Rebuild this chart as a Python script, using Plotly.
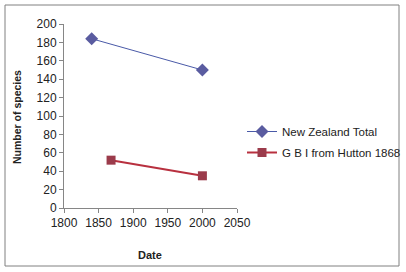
import plotly.graph_objects as go

nz_years = [1840, 2000]
nz_values = [184, 150]
gb_years = [1868, 2000]
gb_values = [52, 35]

x_ticks = [1800, 1850, 1900, 1950, 2000, 2050]
y_ticks = [0, 20, 40, 60, 80, 100, 120, 140, 160, 180, 200]

W, H = 406, 272
L, R, T, B = 64, 237, 24, 208

fig = go.Figure()
fig.add_trace(go.Scatter(
    x=nz_years, y=nz_values, mode="lines+markers", name="New Zealand Total",
    line=dict(color="#4A5AA8", width=1),
    marker=dict(symbol="diamond", size=10, color="#5A5CA0"),
    legendgroup="a"))
fig.add_trace(go.Scatter(
    x=gb_years, y=gb_values, mode="lines+markers", name="G B I from Hutton 1868",
    line=dict(color="#B8303F", width=2),
    marker=dict(symbol="square", size=9, color="#9B3B4B"),
    legendgroup="b"))

font = "Liberation Sans, Arial, sans-serif"
fig.update_layout(
    width=W, height=H,
    margin=dict(l=L, r=W - R, t=T, b=H - B, pad=0, autoexpand=False),
    paper_bgcolor="white", plot_bgcolor="white",
    font=dict(family=font, size=12, color="#222222"),
    xaxis=dict(range=[1800, 2050], tickvals=x_ticks, ticks="outside", ticklen=4,
               tickcolor="#868686", showline=True, linecolor="#868686", linewidth=1,
               showgrid=False, zeroline=False, tickfont=dict(size=12, color="#222222")),
    yaxis=dict(range=[0, 200], tickvals=y_ticks, ticks="outside", ticklen=4,
               tickcolor="#868686", showline=True, linecolor="#868686", linewidth=1,
               showgrid=False, zeroline=False, tickfont=dict(size=12, color="#222222")),
    legend=dict(x=(242 - L) / (R - L), y=1 - (117 - T) / (B - T), xanchor="left", yanchor="top",
                font=dict(size=11.5, color="#222222"), bgcolor="rgba(0,0,0,0)",
                tracegroupgap=2, itemwidth=30),
    shapes=[dict(type="rect", xref="paper", yref="paper",
                 x0=(5 - L) / (R - L), x1=(399 - L) / (R - L),
                 y0=1 - (266 - T) / (B - T), y1=1 - (5 - T) / (B - T),
                 line=dict(color="#808080", width=1))],
    annotations=[
        dict(text="<b>Date</b>", xref="paper", yref="paper",
             x=(150 - L) / (R - L), y=1 - (255 - T) / (B - T), showarrow=False,
             font=dict(size=11, color="#222222"), xanchor="center", yanchor="middle"),
        dict(text="<b>Number of species</b>", xref="paper", yref="paper", textangle=-90,
             x=(17 - L) / (R - L), y=1 - (117 - T) / (B - T), showarrow=False,
             font=dict(size=10.5, color="#222222"), xanchor="center", yanchor="middle"),
    ],
)
fig.write_html("out.html")
